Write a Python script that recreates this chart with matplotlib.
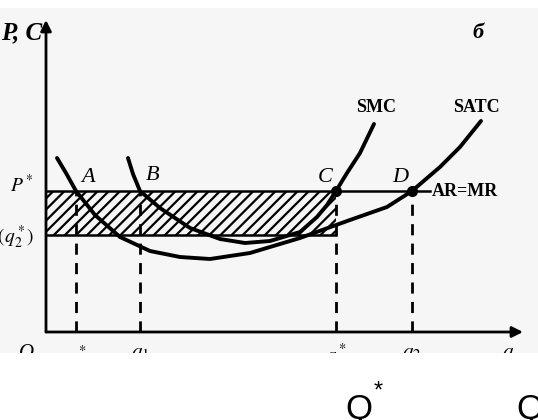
import numpy as np
import matplotlib
matplotlib.use("Agg")
from matplotlib import pyplot as plt

plt.rcParams['mathtext.fontset'] = 'stix'
plt.rcParams['hatch.linewidth'] = 1.6

# curve points (Q, cost)
q_satc = [1.1, 2.0, 3.0, 4.9, 7.4, 10.4, 13.4, 16.4, 20.4, 25.4, 30.4, 34.1, 36.6, 39.4, 41.4, 43.5]
c_satc = [17.4, 15.9, 14.1, 11.7, 9.5, 8.1, 7.5, 7.3, 7.9, 9.4, 11.2, 12.5, 14.1, 16.5, 18.5, 21.1]
q_smc = [8.2, 8.7, 9.4, 11.4, 14.4, 17.4, 19.9, 22.4, 25.4, 27.1, 28.1, 29.0, 30.1, 31.4, 32.8]
c_smc = [17.4, 15.8, 14.1, 12.4, 10.4, 9.3, 8.9, 9.1, 10.0, 11.5, 12.7, 14.1, 15.9, 17.9, 20.8]

p_star = 14.1
atc_low = 9.7
q_marks = [3.0, 9.4, 29.0, 36.6]
q_labels = [r'$q_2^*$', r'$q_1$', r'$q_1^*$', r'$q_2$']
point_names = ['A', 'B', 'C', 'D']

fig = plt.figure(figsize=(5.38, 4.2), dpi=100)
ax = fig.add_axes([0, 67 / 420, 1, 345 / 420])
ax.set_xlim(-4.6, 49.2)
ax.set_ylim(-2.1, 32.4)
ax.axis('off')
ax.add_patch(plt.Rectangle((-4.6, -2.1), 53.8, 34.5, facecolor='#f6f6f6', edgecolor='none', zorder=0))

# axes with arrows
ax.annotate('', xy=(0, 31.2), xytext=(0, 0),
            arrowprops=dict(arrowstyle='-|>', lw=2, color='k', mutation_scale=16, shrinkA=0, shrinkB=0))
ax.annotate('', xy=(47.7, 0), xytext=(0, 0),
            arrowprops=dict(arrowstyle='-|>', lw=2, color='k', mutation_scale=16, shrinkA=0, shrinkB=0))

# hatched loss area
ax.fill_between([0, q_marks[2]], atc_low, p_star, facecolor='none', edgecolor='k', hatch='///', lw=0)
ax.plot([0, q_marks[2]], [atc_low, atc_low], color='k', lw=1.8)
ax.plot([0, 38.4], [p_star, p_star], color='k', lw=1.8)

# dashed drops
for q in q_marks:
    ax.plot([q, q], [0, p_star], color='k', lw=2, dashes=(4, 3))

ax.plot(q_satc, c_satc, color='k', lw=2.8, solid_capstyle='round', solid_joinstyle='round')
ax.plot(q_smc, c_smc, color='k', lw=2.8, solid_capstyle='round', solid_joinstyle='round')
ax.plot(q_marks[2:], [p_star, p_star], 'o', color='k', ms=7)

offsets = [(12, 13), (13, 16), (-11, 14), (-12, 14)]
for q, name, off in zip(q_marks, point_names, offsets):
    ax.annotate(name, (q, p_star), xytext=off, textcoords='offset pixels',
                ha='center', va='center', fontsize=16, style='italic', family='Liberation Serif')

serif = dict(family='Liberation Serif', fontweight='bold', fontsize=13)
ax.text(33.0, 22.5, 'SMC', ha='center', va='center', **serif)
ax.text(43.0, 22.5, 'SATC', ha='center', va='center', **serif)
ax.text(38.6, p_star, 'AR=MR', ha='left', va='center', **serif)
ax.text(43.2, 29.9, 'б', ha='center', va='center', fontsize=16, style='italic',
        family='Liberation Serif', fontweight='bold')

ax.text(-0.4, 29.9, 'P, C', ha='right', va='center', fontsize=18, style='italic',
        family='Liberation Serif', fontweight='bold')
ax.text(-1.2, 14.7, r'$P^*$', ha='right', va='center', fontsize=14)
ax.text(-1.2, 9.5, r'$ATC(q_2^*)$', ha='right', va='center', fontsize=14)

ax.text(-1.9, -1.2, 'O', ha='center', va='top', fontsize=15, style='italic',
        family='Liberation Serif', clip_on=True)
for q, lab in zip(q_marks, q_labels):
    ax.text(q, -1.1, lab, ha='center', va='top', fontsize=15, clip_on=True)
ax.text(46.2, -1.1, r'$q$', ha='center', va='top', fontsize=15, clip_on=True)

fig.text(345 / 538, 1 / 420, 'Q', fontsize=25, family='Liberation Sans', ha='left', va='baseline')
fig.text(374 / 538, 1 - 381 / 420, '*', fontsize=17, family='Liberation Sans', ha='left', va='top')
fig.text(516 / 538, 1 / 420, 'Q', fontsize=25, family='Liberation Sans', ha='left', va='baseline')

fig.savefig('out.png', dpi=100, facecolor='white')
